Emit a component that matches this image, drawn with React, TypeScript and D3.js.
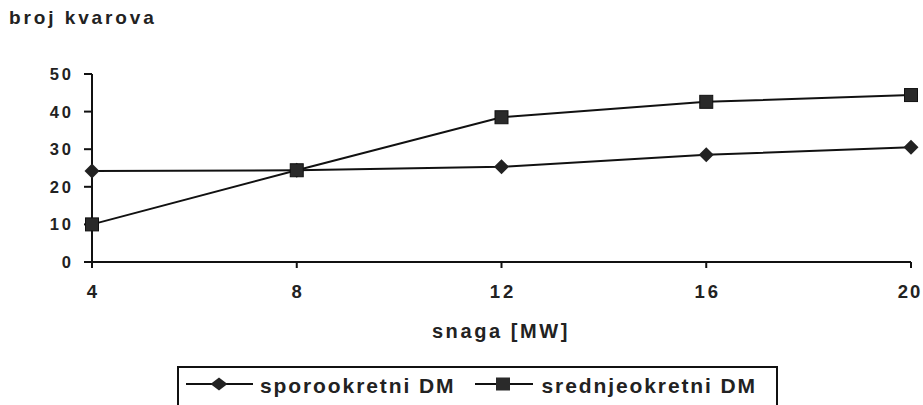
import React from "react";
import * as d3 from "d3";

const xValues = [4, 8, 12, 16, 20];
const sporo = [24.2, 24.4, 25.3, 28.5, 30.5];
const srednje = [10, 24.4, 38.5, 42.6, 44.4];
const yTicks = [0, 10, 20, 30, 40, 50];
const seriesNames = ["sporookretni DM", "srednjeokretni DM"];

const W = 923, H = 405;
const M = { left: 92, right: 911, top: 74, bottom: 262 };
const font = "'Liberation Sans', Arial, sans-serif";

export default function App() {
  const x = d3.scaleLinear().domain([4, 20]).range([M.left, M.right]);
  const y = d3.scaleLinear().domain([0, 50]).range([M.bottom, M.top]);
  const line = d3.line<number>().x((_, i) => x(xValues[i])).y(d => y(d));
  const diamond = (cx: number, cy: number, rx = 7, ry = 7) =>
    `M${cx},${cy - ry}L${cx + rx},${cy}L${cx},${cy + ry}L${cx - rx},${cy}Z`;
  const sq = 13;
  const legY = 384;
  return (
    <svg width={W} height={H} style={{ position: "absolute", left: 0, top: 0, background: "#fff" }}>
      <text x={9} y={24} fontFamily={font} fontWeight="bold" fontSize={19} letterSpacing={2.9} fill="#222">broj kvarova</text>
      {/* axes */}
      <line x1={M.left} x2={M.left} y1={y(50)} y2={y(0)} stroke="#111" strokeWidth={2} />
      <line x1={M.left} x2={M.right} y1={y(0)} y2={y(0)} stroke="#111" strokeWidth={2} />
      {yTicks.map(t => (
        <g key={t}>
          <line x1={M.left - 8} x2={M.left} y1={y(t)} y2={y(t)} stroke="#111" strokeWidth={2} />
          <text x={74} y={y(t)} dy="0.36em" textAnchor="end" fontFamily={font} fontWeight="bold" fontSize={16.5} letterSpacing={3} fill="#222">{t}</text>
        </g>
      ))}
      {xValues.map((v, i) => (
        <g key={v}>
          <line x1={x(v)} x2={x(v)} y1={y(0)} y2={y(0) + 6} stroke="#111" strokeWidth={2} />
          <text x={x(v) + (i === xValues.length - 1 ? -1 : 1.5)} y={297.5} textAnchor="middle" fontFamily={font} fontWeight="bold" fontSize={18.5} letterSpacing={i === xValues.length - 1 ? 2 : 3} fill="#222">{v}</text>
        </g>
      ))}
      <text x={501} y={338} textAnchor="middle" fontFamily={font} fontWeight="bold" fontSize={20} letterSpacing={2.6} fill="#222">snaga [MW]</text>
      {/* series */}
      <path d={line(sporo) || ""} fill="none" stroke="#111" strokeWidth={2} />
      <path d={line(srednje) || ""} fill="none" stroke="#111" strokeWidth={2} />
      {sporo.map((v, i) => <path key={"d" + i} d={diamond(x(xValues[i]), y(v), 7.5, 7.5)} fill="#222" />)}
      {srednje.map((v, i) => (
        <rect key={"s" + i} x={x(xValues[i]) - sq / 2} y={y(v) - sq / 2} width={sq} height={sq} fill="#2a2a2a" stroke="#111" strokeWidth={1} />
      ))}
      {/* legend */}
      <rect x={178} y={367} width={599} height={50} fill="none" stroke="#111" strokeWidth={2} />
      <line x1={186} x2={253} y1={legY} y2={legY} stroke="#111" strokeWidth={2} />
      <path d={diamond(219, legY, 8.5, 6.5)} fill="#222" />
      <text x={260} y={393} fontFamily={font} fontWeight="bold" fontSize={21} letterSpacing={1.9} fill="#222">{seriesNames[0]}</text>
      <line x1={475} x2={533} y1={legY} y2={legY} stroke="#111" strokeWidth={2} />
      <rect x={496} y={legY - 6.5} width={14} height={13} fill="#2a2a2a" />
      <text x={541.5} y={393} fontFamily={font} fontWeight="bold" fontSize={21} letterSpacing={1.9} fill="#222">{seriesNames[1]}</text>
    </svg>
  );
}
